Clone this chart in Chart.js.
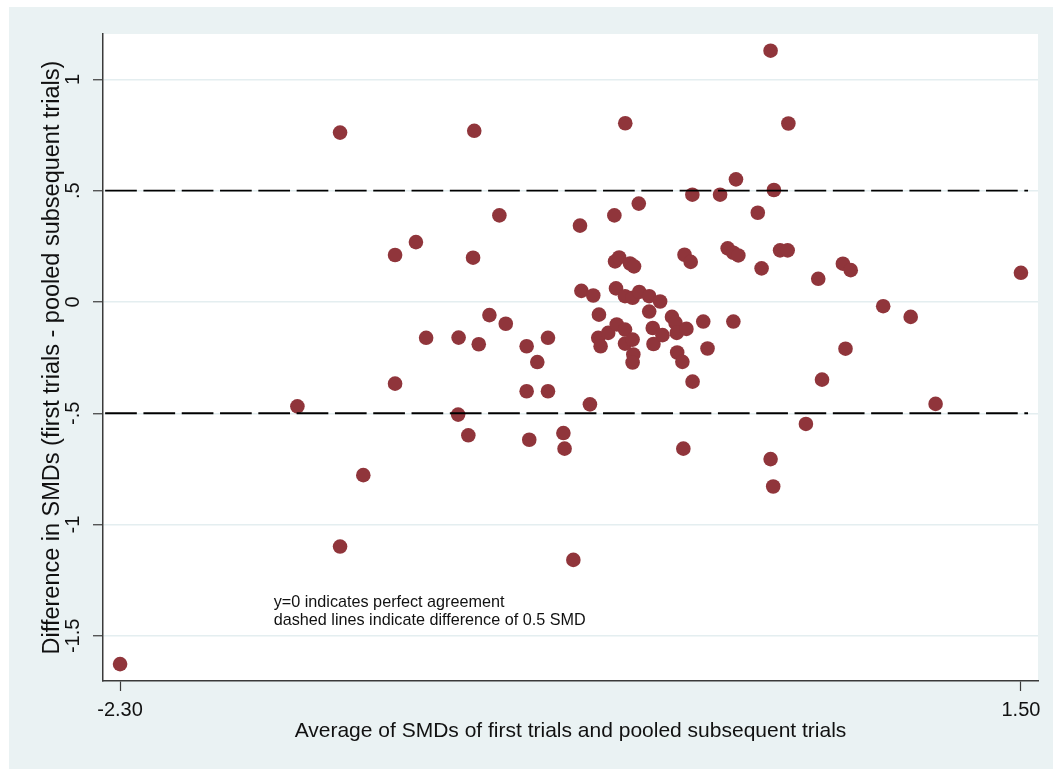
<!DOCTYPE html>
<html>
<head>
<meta charset="utf-8">
<title>Agreement of SMDs</title>
<script src="https://cdn.jsdelivr.net/npm/chart.js@4.4.1/dist/chart.umd.min.js"></script>
<style>
  html, body { margin: 0; padding: 0; background: #ffffff; }
  #frame { position: absolute; left: 9px; top: 7px; width: 1044px; height: 762px; background: #eaf2f3; }
  #frame canvas { display: block; }
</style>
</head>
<body>
<div id="frame"><canvas id="baChart" width="1044" height="762"></canvas></div>
<script>
// Average of SMDs (first trials & pooled subsequent trials)
const smdAverage = [
  -2.300, -1.552, -1.372, -1.372, -1.274, -1.140, -1.140, -1.052, -1.009, -0.872,
  -0.874, -0.831, -0.811, -0.806, -0.787, -0.742, -0.700, -0.673, -0.585, -0.585,
  -0.574, -0.540, -0.495, -0.495, -0.430, -0.425, -0.388, -0.360, -0.354, -0.318,
  -0.304, -0.280, -0.283, -0.273, -0.241, -0.215, -0.208, -0.205, -0.170, -0.170,
  -0.170, -0.138, -0.138, -0.135, -0.138, -0.110, -0.068, -0.068, -0.053, -0.050,
  -0.022, -0.012, 0.028, 0.043, 0.048, 0.050, 0.072, 0.089, -0.212, -0.195,
  -0.149, -0.132, -0.169, -0.112, 0.081, 0.107, 0.114, 0.115, 0.076, 0.160,
  0.178, 0.231, 0.263, 0.287, 0.308, 0.287, 0.298, 0.390, 0.406, 0.444,
  0.458, 0.484, 0.516, 0.519, 0.444, 0.455, 0.593, 0.645, 0.661, 0.749,
  0.782, 0.760, 0.919, 1.035, 1.140, 1.500
];
// Difference in SMDs (first trials - pooled subsequent trials)
const smdDifference = [
  -1.627, -0.469, 0.761, -1.099, -0.778, 0.211, -0.367, 0.269, -0.161, -0.160,
  -0.506, -0.599, 0.199, 0.769, -0.190, -0.059, 0.389, -0.098, -0.199, -0.401,
  -0.619, -0.270, -0.161, -0.401, -0.589, -0.659, -1.159, 0.343, 0.050, -0.460,
  0.029, -0.057, -0.161, -0.199, -0.139, 0.389, 0.061, -0.101, 0.026, -0.124,
  -0.187, 0.019, -0.169, -0.236, -0.272, 0.045, 0.026, -0.043, -0.117, -0.189,
  0.002, -0.149, -0.067, -0.094, -0.139, -0.227, -0.269, -0.121, 0.182, 0.200,
  0.173, 0.160, 0.803, 0.442, 0.212, 0.180, 0.482, -0.358, -0.659, -0.088,
  -0.209, 0.482, 0.241, 0.221, 0.209, -0.088, 0.551, 0.401, 0.151, 1.129,
  0.503, 0.232, 0.232, 0.802, -0.706, -0.829, -0.548, 0.104, -0.349, 0.172,
  0.143, -0.210, -0.019, -0.067, -0.458, 0.131
];

const xTickValues = [-2.30, 1.50];
const yTickValues = [-1.5, -1, -0.5, 0, 0.5, 1];
const yTickLabels = ["-1.5", "-1", "-.5", "0", ".5", "1"];

// reference lines at +/- 0.5 SMD
const refLineValues = [0.5, -0.5];
const refLineSpan = [-2.363, 1.530];

const noteLines = ["y=0 indicates perfect agreement", "dashed lines indicate difference of 0.5 SMD"];
const noteX = -1.652;
const noteY = [-1.350, -1.431];

const xTitle = "Average of SMDs of first trials and pooled subsequent trials";
const yTitle = "Difference in SMDs (first trials - pooled subsequent trials)";

const FONT = '"Liberation Sans", Arial, Helvetica, sans-serif';
Chart.defaults.font.family = FONT;
Chart.defaults.color = "#111";

// white plot region inside the bluish graph region
const plotRegion = {
    id: "plotRegion",
    beforeDraw(chart) {
        const { ctx, chartArea: a } = chart;
        ctx.save();
        ctx.fillStyle = "#ffffff";
        ctx.fillRect(a.left, a.top, a.right - a.left, a.bottom - a.top);
        ctx.restore();
    }
};

// text notes, placed in data coordinates
const notes = {
    id: "notes",
    afterDatasetsDraw(chart) {
        const { ctx, scales: { x, y } } = chart;
        ctx.save();
        ctx.font = "16.2px " + FONT;
        ctx.fillStyle = "#111";
        ctx.textAlign = "left";
        ctx.textBaseline = "middle";
        noteLines.forEach((t, i) => {
            ctx.fillText(t, x.getPixelForValue(noteX), y.getPixelForValue(noteY[i]));
        });
        ctx.restore();
    }
};

const refDatasets = refLineValues.map(v => ({
    type: "line",
    data: refLineSpan.map(xv => ({ x: xv, y: v })),
    borderColor: "#000000",
    borderWidth: 1.8,
    borderDash: [31.7, 6.6],
    pointRadius: 0,
    fill: false
}));

const points = smdAverage.map((xv, i) => ({ x: xv, y: smdDifference[i] }));

new Chart(document.getElementById("baChart").getContext("2d"), {
    type: "scatter",
    data: {
        datasets: [
            ...refDatasets,
            {
                type: "scatter",
                data: points,
                backgroundColor: "#90353b",
                borderColor: "#90353b",
                borderWidth: 0,
                pointRadius: 7.3
            }
        ]
    },
    options: {
        responsive: false,
        animation: false,
        layout: { padding: { top: 27, right: 15, left: 0, bottom: 0 } },
        plugins: { legend: { display: false }, tooltip: { enabled: false } },
        scales: {
            x: {
                type: "linear",
                min: -2.372,
                max: 1.572,
                afterBuildTicks: s => { s.ticks = xTickValues.map(v => ({ value: v })); },
                afterFit: s => { s.height = 88; },
                border: { display: true, color: "#3a3a3a", width: 1.5 },
                grid: { drawOnChartArea: false, drawTicks: true, tickLength: 10, tickColor: "#3a3a3a", tickWidth: 1.2 },
                ticks: { autoSkip: false, maxRotation: 0, padding: 7, font: { size: 20 }, callback: v => v.toFixed(2) },
                title: { display: true, text: xTitle, font: { size: 21 }, padding: { top: 0, bottom: 25 } }
            },
            y: {
                type: "linear",
                min: -1.703,
                max: 1.204,
                afterBuildTicks: s => { s.ticks = yTickValues.map(v => ({ value: v })); },
                afterFit: s => { s.width = 94; },
                border: { display: true, color: "#3a3a3a", width: 1.5 },
                grid: { color: "#e4eef0", lineWidth: 1.5, tickLength: 10, tickColor: "#3a3a3a", tickWidth: 1.2 },
                ticks: { minRotation: 90, maxRotation: 90, crossAlign: "center", padding: 2, font: { size: 20 },
                         callback: (v, i) => yTickLabels[i] },
                title: { display: true, text: yTitle, font: { size: 23.5 }, padding: { top: 29, bottom: 0 } }
            }
        }
    },
    plugins: [plotRegion, notes]
});
</script>
</body>
</html>
